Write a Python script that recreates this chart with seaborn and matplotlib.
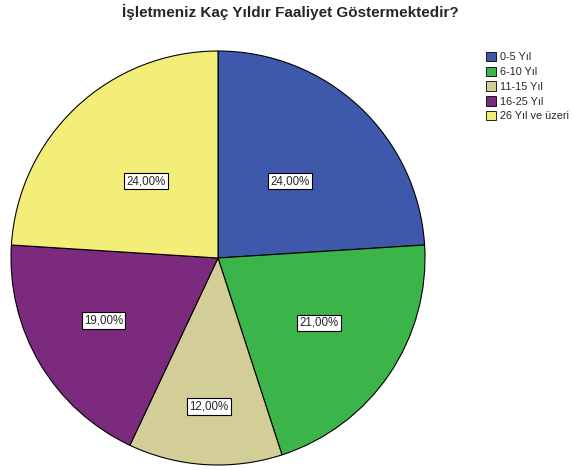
import matplotlib
matplotlib.use("Agg")
import numpy as np
import matplotlib.pyplot as plt
import seaborn as sns
from matplotlib.patches import Patch

categories = ["0-5 Yıl", "6-10 Yıl", "11-15 Yıl", "16-25 Yıl", "26 Yıl ve üzeri"]
percentages = [24.0, 21.0, 12.0, 19.0, 24.0]
slice_colors = ["#3E58AC", "#3BB54A", "#D3CE97", "#7B2A7E", "#F3EE78"]
title = "İşletmeniz Kaç Yıldır Faaliyet Göstermektedir?"

# radial position of each percentage label (fraction of radius) and angular nudge (degrees)
label_radius = [0.51, 0.58, 0.72, 0.63, 0.51]
label_shift = [0, 1.5, 0, -2.0, 0]

sns.set_style("white")
plt.rcParams["font.family"] = ["Liberation Sans", "DejaVu Sans"]

fig = plt.figure(figsize=(5.74, 4.70), dpi=100)
ax = fig.add_axes([11 / 574, 5 / 470, 414 / 574, 414 / 470])

palette = sns.color_palette(slice_colors)
wedges, texts, autotexts = ax.pie(
    percentages,
    colors=palette,
    startangle=90,
    counterclock=False,
    autopct=lambda p: f"{p:.2f}%".replace(".", ","),
    pctdistance=0.5,
    wedgeprops=dict(edgecolor="black", linewidth=0.8),
    textprops=dict(fontsize=8.3),
)
for w, t, r, s in zip(wedges, autotexts, label_radius, label_shift):
    mid = np.deg2rad((w.theta1 + w.theta2) / 2 + s)
    t.set_position((r * np.cos(mid), r * np.sin(mid)))
    t.set_bbox(dict(facecolor="white", edgecolor="black", linewidth=0.8, boxstyle="square,pad=0.2"))
ax.set_aspect("equal")
ax.set_xlim(-1, 1)
ax.set_ylim(-1, 1)
ax.axis("off")

fig.text(0.505, 0.974, title, ha="center", va="center", fontsize=11, fontweight="bold")

handles = [Patch(facecolor=c, edgecolor="black", linewidth=0.6) for c in palette]
fig.legend(
    handles, categories,
    loc="upper left", bbox_to_anchor=(486 / 574, 1 - 52 / 470),
    frameon=False, fontsize=7.8,
    handlelength=0.95, handleheight=0.95, handletextpad=0.35,
    labelspacing=0.4, borderaxespad=0, borderpad=0,
)

fig.savefig("out.png", dpi=100)
